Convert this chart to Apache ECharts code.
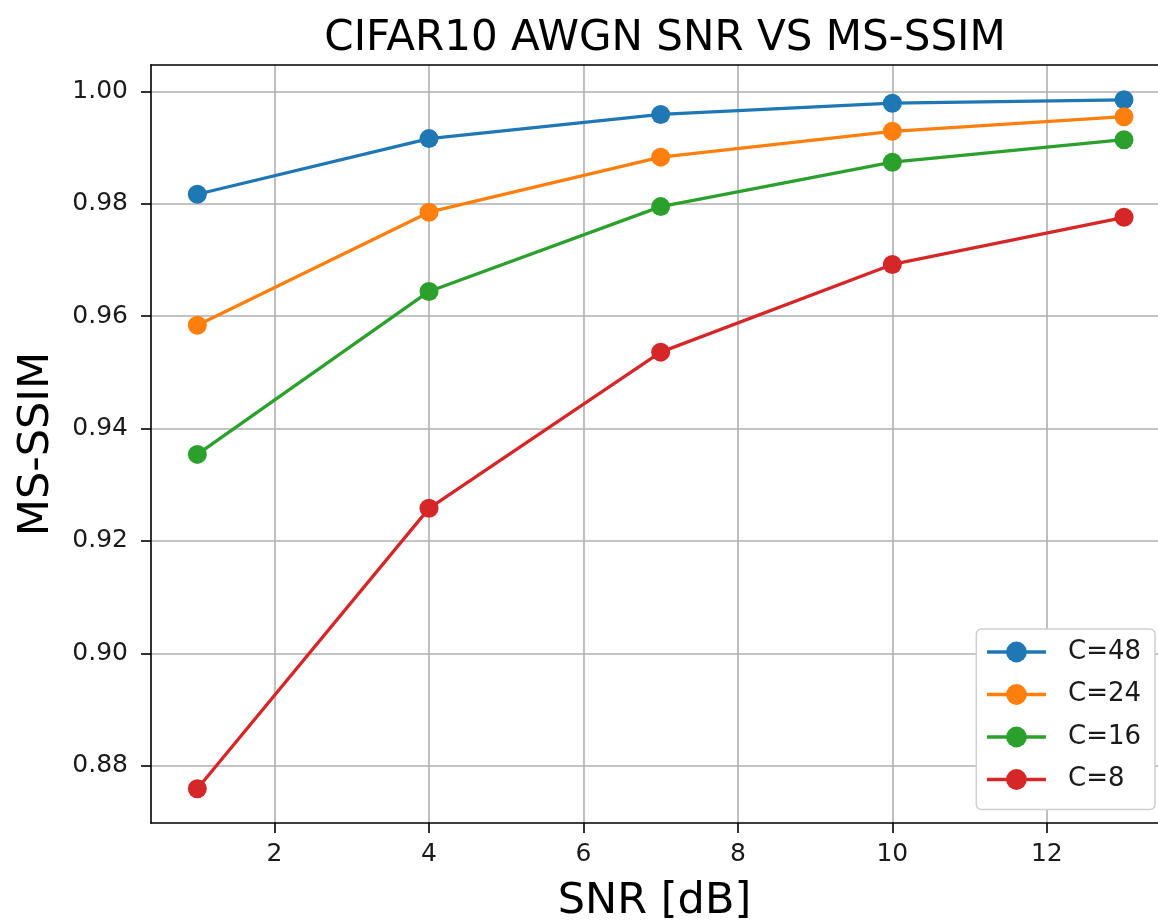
<!DOCTYPE html>
<html>
<head>
<meta charset="utf-8">
<script src="https://cdn.jsdelivr.net/npm/echarts@6/dist/echarts.min.js"></script>
<style>
  html, body { margin: 0; padding: 0; background: #fff; }
  #chart { width: 1158px; height: 923px; }
</style>
</head>
<body>
<div id="chart"></div>
<script>
// values
const snrValues = [1, 4, 7, 10, 13];
const c48 = [0.9817, 0.9916, 0.9959, 0.9979, 0.9985];
const c24 = [0.9584, 0.9785, 0.9883, 0.9929, 0.9955];
const c16 = [0.9354, 0.9644, 0.9795, 0.9874, 0.9914];
const c8 = [0.8759, 0.9258, 0.9536, 0.9692, 0.9776];
const seriesNames = ['C=48', 'C=24', 'C=16', 'C=8'];
const xTicks = [2, 4, 6, 8, 10, 12];
const yTicks = [0.88, 0.90, 0.92, 0.94, 0.96, 0.98, 1.00];

const colors = ['#1f77b4', '#ff7f0e', '#2ca02c', '#d62728'];
const font = 'DejaVu Sans';

function toPairs(ys) {
  return snrValues.map((x, i) => [x, ys[i]]);
}

const chart = echarts.init(document.getElementById('chart'), null, { renderer: 'canvas' });

// the plot is cut off on the right in the reference, so no right spine
const tickStyle = { color: '#000', width: 1.6 };

const option = {
  animation: false,
  backgroundColor: '#fff',
  color: colors,
  title: {
    text: 'CIFAR10 AWGN SNR VS MS-SSIM',
    left: 660,
    textAlign: 'center',
    top: 13,
    textStyle: { fontFamily: font, fontSize: 42, fontWeight: 'normal', color: '#000' },
  },
  grid: {
    left: 151,
    top: 65,
    right: 0,
    bottom: 100,
    show: false,
    outerBoundsMode: 'none',
  },
  legend: {
    orient: 'vertical',
    right: 3,
    top: 629,
    data: seriesNames,
    itemWidth: 59,
    itemHeight: 26,
    itemGap: 16.5,
    padding: [10, 14, 17, 9],
    backgroundColor: '#fff',
    borderColor: '#d0d0d0',
    borderWidth: 1.5,
    borderRadius: 5,
    lineStyle: { width: 3.3 },
    textStyle: {
      fontFamily: font,
      fontSize: 26,
      lineHeight: 26,
      color: '#1a1a1a',
      padding: [0, 0, 0, 17],
    },
  },
  xAxis: [
    {
      type: 'value',
      min: 0.4,
      max: 13.44,
      name: 'SNR [dB]',
      nameLocation: 'middle',
      nameGap: 57,
      nameTextStyle: { fontFamily: font, fontSize: 43, color: '#000' },
      axisLine: { show: true, lineStyle: tickStyle },
      axisTick: { show: true, length: 10, lineStyle: tickStyle, customValues: xTicks },
      axisLabel: {
        fontFamily: font, fontSize: 25, color: '#1a1a1a', margin: 19,
        customValues: xTicks,
      },
      splitLine: { show: true, lineStyle: { color: '#b0b0b0', width: 1.6 } },
    },
    {
      // top spine only
      type: 'value',
      position: 'top',
      min: 0.4,
      max: 13.44,
      axisLine: { show: true, onZero: false, lineStyle: tickStyle },
      axisTick: { show: false },
      axisLabel: { show: false },
      splitLine: { show: false },
    },
  ],
  yAxis: {
    type: 'value',
    min: 0.8698,
    max: 1.0047,
    name: 'MS-SSIM',
    nameLocation: 'middle',
    nameGap: 93,
    nameTextStyle: { fontFamily: font, fontSize: 43, color: '#000' },
    axisLine: { show: true, lineStyle: tickStyle },
    axisTick: { show: true, length: 10, lineStyle: tickStyle, customValues: yTicks },
    axisLabel: {
      fontFamily: font, fontSize: 25, color: '#1a1a1a', margin: 23,
      customValues: yTicks,
      formatter: (v) => v.toFixed(2),
    },
    splitLine: { show: true, lineStyle: { color: '#b0b0b0', width: 1.6 } },
  },
  series: [c48, c24, c16, c8].map((ys, i) => ({
    name: seriesNames[i],
    type: 'line',
    xAxisIndex: 0,
    data: toPairs(ys),
    symbol: 'circle',
    symbolSize: 19,
    lineStyle: { width: 3.3, color: colors[i] },
    itemStyle: { color: colors[i] },
    emphasis: { disabled: true },
  })),
};

chart.setOption(option);
</script>
</body>
</html>
